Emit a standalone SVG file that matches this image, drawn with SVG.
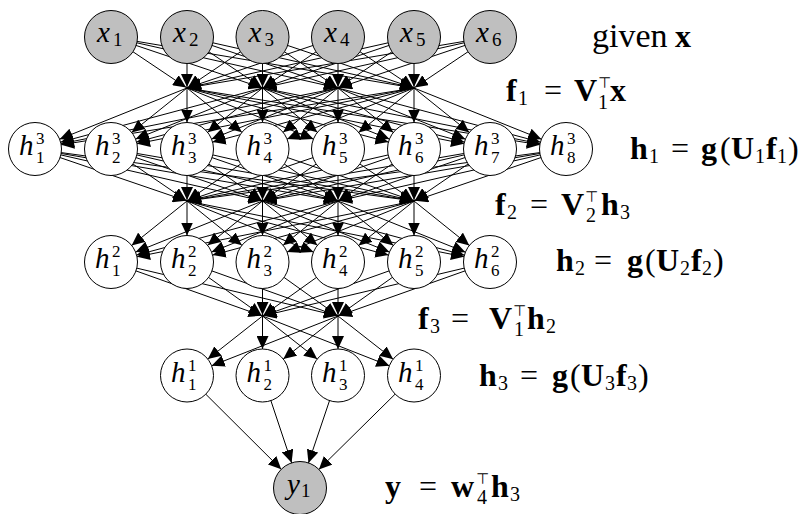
<svg xmlns="http://www.w3.org/2000/svg" width="803" height="514" viewBox="0 0 803 514">
<style>
.e line{stroke:#000;stroke-width:1}
.an{marker-end:url(#an)}
.ap{marker-end:url(#ap)}
.nd circle{fill:#fff;stroke:#000;stroke-width:1}
.gy circle{fill:#bfbfbf}
.lb{font-family:"Liberation Serif",serif;font-style:italic;font-size:29px;fill:#000}
.lb .d{font-style:normal;font-size:19px}
.lb .s{font-style:normal;font-size:17px}
.eq{font-family:"Liberation Serif",serif;font-size:32px;fill:#000}
.eq .b{font-weight:bold}
.eq .d{font-size:20px}
.eq .t{font-family:"DejaVu Sans",sans-serif;font-size:15px}
.eq .gv{font-size:34px}
</style>
<defs>
<marker id="an" markerUnits="userSpaceOnUse" markerWidth="13" markerHeight="12" refX="39.5" refY="6" orient="auto"><path d="M0,0L13,6L0,12z" fill="#000"/></marker>
<marker id="ap" markerUnits="userSpaceOnUse" markerWidth="13" markerHeight="12" refX="14" refY="6" orient="auto"><path d="M0,0L13,6L0,12z" fill="#000"/></marker>
</defs>
<rect width="803" height="514" fill="#fff"/>
<g id="connectors" class="e">
<g class="ap">
<line x1="111" y1="37" x2="187" y2="88"/><line x1="111" y1="37" x2="262.5" y2="88"/><line x1="111" y1="37" x2="338" y2="88"/><line x1="111" y1="37" x2="414" y2="88"/>
<line x1="187" y1="37" x2="187" y2="88"/><line x1="187" y1="37" x2="262.5" y2="88"/><line x1="187" y1="37" x2="338" y2="88"/><line x1="187" y1="37" x2="414" y2="88"/>
<line x1="262.5" y1="37" x2="187" y2="88"/><line x1="262.5" y1="37" x2="262.5" y2="88"/><line x1="262.5" y1="37" x2="338" y2="88"/><line x1="262.5" y1="37" x2="414" y2="88"/>
<line x1="338" y1="37" x2="187" y2="88"/><line x1="338" y1="37" x2="262.5" y2="88"/><line x1="338" y1="37" x2="338" y2="88"/><line x1="338" y1="37" x2="414" y2="88"/>
<line x1="414" y1="37" x2="187" y2="88"/><line x1="414" y1="37" x2="262.5" y2="88"/><line x1="414" y1="37" x2="338" y2="88"/><line x1="414" y1="37" x2="414" y2="88"/>
<line x1="490" y1="37" x2="187" y2="88"/><line x1="490" y1="37" x2="262.5" y2="88"/><line x1="490" y1="37" x2="338" y2="88"/><line x1="490" y1="37" x2="414" y2="88"/>
</g>
<g class="an">
<line x1="187" y1="88" x2="35" y2="149"/><line x1="187" y1="88" x2="111" y2="149"/><line x1="187" y1="88" x2="187" y2="149"/><line x1="187" y1="88" x2="262.5" y2="149"/><line x1="187" y1="88" x2="338" y2="149"/><line x1="187" y1="88" x2="414" y2="149"/><line x1="187" y1="88" x2="490" y2="149"/><line x1="187" y1="88" x2="566" y2="149"/>
<line x1="262.5" y1="88" x2="35" y2="149"/><line x1="262.5" y1="88" x2="111" y2="149"/><line x1="262.5" y1="88" x2="187" y2="149"/><line x1="262.5" y1="88" x2="262.5" y2="149"/><line x1="262.5" y1="88" x2="338" y2="149"/><line x1="262.5" y1="88" x2="414" y2="149"/><line x1="262.5" y1="88" x2="490" y2="149"/><line x1="262.5" y1="88" x2="566" y2="149"/>
<line x1="338" y1="88" x2="35" y2="149"/><line x1="338" y1="88" x2="111" y2="149"/><line x1="338" y1="88" x2="187" y2="149"/><line x1="338" y1="88" x2="262.5" y2="149"/><line x1="338" y1="88" x2="338" y2="149"/><line x1="338" y1="88" x2="414" y2="149"/><line x1="338" y1="88" x2="490" y2="149"/><line x1="338" y1="88" x2="566" y2="149"/>
<line x1="414" y1="88" x2="35" y2="149"/><line x1="414" y1="88" x2="111" y2="149"/><line x1="414" y1="88" x2="187" y2="149"/><line x1="414" y1="88" x2="262.5" y2="149"/><line x1="414" y1="88" x2="338" y2="149"/><line x1="414" y1="88" x2="414" y2="149"/><line x1="414" y1="88" x2="490" y2="149"/><line x1="414" y1="88" x2="566" y2="149"/>
</g>
<g class="ap">
<line x1="35" y1="149" x2="187" y2="201"/><line x1="35" y1="149" x2="262.5" y2="201"/><line x1="35" y1="149" x2="338" y2="201"/><line x1="35" y1="149" x2="414" y2="201"/>
<line x1="111" y1="149" x2="187" y2="201"/><line x1="111" y1="149" x2="262.5" y2="201"/><line x1="111" y1="149" x2="338" y2="201"/><line x1="111" y1="149" x2="414" y2="201"/>
<line x1="187" y1="149" x2="187" y2="201"/><line x1="187" y1="149" x2="262.5" y2="201"/><line x1="187" y1="149" x2="338" y2="201"/><line x1="187" y1="149" x2="414" y2="201"/>
<line x1="262.5" y1="149" x2="187" y2="201"/><line x1="262.5" y1="149" x2="262.5" y2="201"/><line x1="262.5" y1="149" x2="338" y2="201"/><line x1="262.5" y1="149" x2="414" y2="201"/>
<line x1="338" y1="149" x2="187" y2="201"/><line x1="338" y1="149" x2="262.5" y2="201"/><line x1="338" y1="149" x2="338" y2="201"/><line x1="338" y1="149" x2="414" y2="201"/>
<line x1="414" y1="149" x2="187" y2="201"/><line x1="414" y1="149" x2="262.5" y2="201"/><line x1="414" y1="149" x2="338" y2="201"/><line x1="414" y1="149" x2="414" y2="201"/>
<line x1="490" y1="149" x2="187" y2="201"/><line x1="490" y1="149" x2="262.5" y2="201"/><line x1="490" y1="149" x2="338" y2="201"/><line x1="490" y1="149" x2="414" y2="201"/>
<line x1="566" y1="149" x2="187" y2="201"/><line x1="566" y1="149" x2="262.5" y2="201"/><line x1="566" y1="149" x2="338" y2="201"/><line x1="566" y1="149" x2="414" y2="201"/>
</g>
<g class="an">
<line x1="187" y1="201" x2="111" y2="262"/><line x1="187" y1="201" x2="187" y2="262"/><line x1="187" y1="201" x2="262.5" y2="262"/><line x1="187" y1="201" x2="338" y2="262"/><line x1="187" y1="201" x2="414" y2="262"/><line x1="187" y1="201" x2="490" y2="262"/>
<line x1="262.5" y1="201" x2="111" y2="262"/><line x1="262.5" y1="201" x2="187" y2="262"/><line x1="262.5" y1="201" x2="262.5" y2="262"/><line x1="262.5" y1="201" x2="338" y2="262"/><line x1="262.5" y1="201" x2="414" y2="262"/><line x1="262.5" y1="201" x2="490" y2="262"/>
<line x1="338" y1="201" x2="111" y2="262"/><line x1="338" y1="201" x2="187" y2="262"/><line x1="338" y1="201" x2="262.5" y2="262"/><line x1="338" y1="201" x2="338" y2="262"/><line x1="338" y1="201" x2="414" y2="262"/><line x1="338" y1="201" x2="490" y2="262"/>
<line x1="414" y1="201" x2="111" y2="262"/><line x1="414" y1="201" x2="187" y2="262"/><line x1="414" y1="201" x2="262.5" y2="262"/><line x1="414" y1="201" x2="338" y2="262"/><line x1="414" y1="201" x2="414" y2="262"/><line x1="414" y1="201" x2="490" y2="262"/>
</g>
<g class="ap">
<line x1="111" y1="262" x2="262.5" y2="316"/><line x1="111" y1="262" x2="338" y2="316"/>
<line x1="187" y1="262" x2="262.5" y2="316"/><line x1="187" y1="262" x2="338" y2="316"/>
<line x1="262.5" y1="262" x2="262.5" y2="316"/><line x1="262.5" y1="262" x2="338" y2="316"/>
<line x1="338" y1="262" x2="262.5" y2="316"/><line x1="338" y1="262" x2="338" y2="316"/>
<line x1="414" y1="262" x2="262.5" y2="316"/><line x1="414" y1="262" x2="338" y2="316"/>
<line x1="490" y1="262" x2="262.5" y2="316"/><line x1="490" y1="262" x2="338" y2="316"/>
</g>
<g class="an">
<line x1="262.5" y1="316" x2="187" y2="375.5"/><line x1="262.5" y1="316" x2="262.5" y2="375.5"/><line x1="262.5" y1="316" x2="338" y2="375.5"/><line x1="262.5" y1="316" x2="414" y2="375.5"/>
<line x1="338" y1="316" x2="187" y2="375.5"/><line x1="338" y1="316" x2="262.5" y2="375.5"/><line x1="338" y1="316" x2="338" y2="375.5"/><line x1="338" y1="316" x2="414" y2="375.5"/>
</g>
<g class="an">
<line x1="187" y1="375.5" x2="300" y2="488"/><line x1="262.5" y1="375.5" x2="300" y2="488"/><line x1="338" y1="375.5" x2="300" y2="488"/><line x1="414" y1="375.5" x2="300" y2="488"/>
</g>
</g>

<g id="x1" class="nd gy"><circle cx="111" cy="37" r="26.5"/><text class="lb"><tspan x="97" y="42">x</tspan><tspan class="d" x="113" y="46">1</tspan></text></g>
<g id="x2" class="nd gy"><circle cx="187" cy="37" r="26.5"/><text class="lb"><tspan x="173" y="42">x</tspan><tspan class="d" x="189" y="46">2</tspan></text></g>
<g id="x3" class="nd gy"><circle cx="262.5" cy="37" r="26.5"/><text class="lb"><tspan x="248.5" y="42">x</tspan><tspan class="d" x="264.5" y="46">3</tspan></text></g>
<g id="x4" class="nd gy"><circle cx="338" cy="37" r="26.5"/><text class="lb"><tspan x="324" y="42">x</tspan><tspan class="d" x="340" y="46">4</tspan></text></g>
<g id="x5" class="nd gy"><circle cx="414" cy="37" r="26.5"/><text class="lb"><tspan x="400" y="42">x</tspan><tspan class="d" x="416" y="46">5</tspan></text></g>
<g id="x6" class="nd gy"><circle cx="490" cy="37" r="26.5"/><text class="lb"><tspan x="476" y="42">x</tspan><tspan class="d" x="492" y="46">6</tspan></text></g>

<g id="h3_1" class="nd"><circle cx="35" cy="149" r="26.5"/><text class="lb"><tspan x="19" y="155">h</tspan><tspan class="s" x="36" y="144">3</tspan><tspan class="s" x="36" y="163">1</tspan></text></g>
<g id="h3_2" class="nd"><circle cx="111" cy="149" r="26.5"/><text class="lb"><tspan x="95" y="155">h</tspan><tspan class="s" x="112" y="144">3</tspan><tspan class="s" x="112" y="163">2</tspan></text></g>
<g id="h3_3" class="nd"><circle cx="187" cy="149" r="26.5"/><text class="lb"><tspan x="171" y="155">h</tspan><tspan class="s" x="188" y="144">3</tspan><tspan class="s" x="188" y="163">3</tspan></text></g>
<g id="h3_4" class="nd"><circle cx="262.5" cy="149" r="26.5"/><text class="lb"><tspan x="246.5" y="155">h</tspan><tspan class="s" x="263.5" y="144">3</tspan><tspan class="s" x="263.5" y="163">4</tspan></text></g>
<g id="h3_5" class="nd"><circle cx="338" cy="149" r="26.5"/><text class="lb"><tspan x="322" y="155">h</tspan><tspan class="s" x="339" y="144">3</tspan><tspan class="s" x="339" y="163">5</tspan></text></g>
<g id="h3_6" class="nd"><circle cx="414" cy="149" r="26.5"/><text class="lb"><tspan x="398" y="155">h</tspan><tspan class="s" x="415" y="144">3</tspan><tspan class="s" x="415" y="163">6</tspan></text></g>
<g id="h3_7" class="nd"><circle cx="490" cy="149" r="26.5"/><text class="lb"><tspan x="474" y="155">h</tspan><tspan class="s" x="491" y="144">3</tspan><tspan class="s" x="491" y="163">7</tspan></text></g>
<g id="h3_8" class="nd"><circle cx="566" cy="149" r="26.5"/><text class="lb"><tspan x="550" y="155">h</tspan><tspan class="s" x="567" y="144">3</tspan><tspan class="s" x="567" y="163">8</tspan></text></g>

<g id="h2_1" class="nd"><circle cx="111" cy="262" r="26.5"/><text class="lb"><tspan x="95" y="268">h</tspan><tspan class="s" x="112" y="257">2</tspan><tspan class="s" x="112" y="276">1</tspan></text></g>
<g id="h2_2" class="nd"><circle cx="187" cy="262" r="26.5"/><text class="lb"><tspan x="171" y="268">h</tspan><tspan class="s" x="188" y="257">2</tspan><tspan class="s" x="188" y="276">2</tspan></text></g>
<g id="h2_3" class="nd"><circle cx="262.5" cy="262" r="26.5"/><text class="lb"><tspan x="246.5" y="268">h</tspan><tspan class="s" x="263.5" y="257">2</tspan><tspan class="s" x="263.5" y="276">3</tspan></text></g>
<g id="h2_4" class="nd"><circle cx="338" cy="262" r="26.5"/><text class="lb"><tspan x="322" y="268">h</tspan><tspan class="s" x="339" y="257">2</tspan><tspan class="s" x="339" y="276">4</tspan></text></g>
<g id="h2_5" class="nd"><circle cx="414" cy="262" r="26.5"/><text class="lb"><tspan x="398" y="268">h</tspan><tspan class="s" x="415" y="257">2</tspan><tspan class="s" x="415" y="276">5</tspan></text></g>
<g id="h2_6" class="nd"><circle cx="490" cy="262" r="26.5"/><text class="lb"><tspan x="474" y="268">h</tspan><tspan class="s" x="491" y="257">2</tspan><tspan class="s" x="491" y="276">6</tspan></text></g>

<g id="h1_1" class="nd"><circle cx="187" cy="375.5" r="26.5"/><text class="lb"><tspan x="171" y="381.5">h</tspan><tspan class="s" x="188" y="370.5">1</tspan><tspan class="s" x="188" y="389.5">1</tspan></text></g>
<g id="h1_2" class="nd"><circle cx="262.5" cy="375.5" r="26.5"/><text class="lb"><tspan x="246.5" y="381.5">h</tspan><tspan class="s" x="263.5" y="370.5">1</tspan><tspan class="s" x="263.5" y="389.5">2</tspan></text></g>
<g id="h1_3" class="nd"><circle cx="338" cy="375.5" r="26.5"/><text class="lb"><tspan x="322" y="381.5">h</tspan><tspan class="s" x="339" y="370.5">1</tspan><tspan class="s" x="339" y="389.5">3</tspan></text></g>
<g id="h1_4" class="nd"><circle cx="414" cy="375.5" r="26.5"/><text class="lb"><tspan x="398" y="381.5">h</tspan><tspan class="s" x="415" y="370.5">1</tspan><tspan class="s" x="415" y="389.5">4</tspan></text></g>

<g id="y1" class="nd gy"><circle cx="300" cy="488" r="26.5"/><text class="lb"><tspan x="287" y="494">y</tspan><tspan class="d" x="301" y="497">1</tspan></text></g>

<g id="equations" class="eq">
<text><tspan class="gv" x="592" y="47">given</tspan><tspan class="b" x="675" y="47">x</tspan></text>
<text><tspan class="b" x="506" y="101">f</tspan><tspan class="d" x="518" y="105">1</tspan><tspan x="544" y="101">=</tspan><tspan class="b" x="574" y="101">V</tspan><tspan class="t" x="598" y="88">⊤</tspan><tspan class="d" x="598" y="109">1</tspan><tspan class="b" x="610" y="101">x</tspan></text>
<text><tspan class="b" x="630" y="159">h</tspan><tspan class="d" x="649" y="163">1</tspan><tspan x="671" y="159">=</tspan><tspan class="b" x="701" y="159">g</tspan><tspan x="720" y="159">(</tspan><tspan class="b" x="731" y="159">U</tspan><tspan class="d" x="755" y="163">1</tspan><tspan class="b" x="766" y="159">f</tspan><tspan class="d" x="777" y="163">1</tspan><tspan x="788" y="159">)</tspan></text>
<text><tspan class="b" x="495" y="215">f</tspan><tspan class="d" x="507" y="219">2</tspan><tspan x="530" y="215">=</tspan><tspan class="b" x="561" y="215">V</tspan><tspan class="t" x="585" y="202">⊤</tspan><tspan class="d" x="586" y="222">2</tspan><tspan class="b" x="601" y="215">h</tspan><tspan class="d" x="620" y="219">3</tspan></text>
<text><tspan class="b" x="556" y="271">h</tspan><tspan class="d" x="575" y="275">2</tspan><tspan x="594" y="271">=</tspan><tspan class="b" x="627" y="271">g</tspan><tspan x="645" y="271">(</tspan><tspan class="b" x="656" y="271">U</tspan><tspan class="d" x="680" y="275">2</tspan><tspan class="b" x="691" y="271">f</tspan><tspan class="d" x="702" y="275">2</tspan><tspan x="713" y="271">)</tspan></text>
<text><tspan class="b" x="418" y="329">f</tspan><tspan class="d" x="430" y="333">3</tspan><tspan x="451" y="329">=</tspan><tspan class="b" x="489" y="329">V</tspan><tspan class="t" x="513" y="316">⊤</tspan><tspan class="d" x="514" y="336">1</tspan><tspan class="b" x="527" y="329">h</tspan><tspan class="d" x="546" y="333">2</tspan></text>
<text><tspan class="b" x="479" y="386">h</tspan><tspan class="d" x="498" y="390">3</tspan><tspan x="520" y="386">=</tspan><tspan class="b" x="552" y="386">g</tspan><tspan x="570" y="386">(</tspan><tspan class="b" x="581" y="386">U</tspan><tspan class="d" x="605" y="390">3</tspan><tspan class="b" x="616" y="386">f</tspan><tspan class="d" x="627" y="390">3</tspan><tspan x="638" y="386">)</tspan></text>
<text><tspan class="b" x="385" y="497">y</tspan><tspan x="419" y="497">=</tspan><tspan class="b" x="451" y="497">w</tspan><tspan class="t" x="476" y="484">⊤</tspan><tspan class="d" x="477" y="504">4</tspan><tspan class="b" x="491" y="497">h</tspan><tspan class="d" x="510" y="501">3</tspan></text>
</g>
</svg>
